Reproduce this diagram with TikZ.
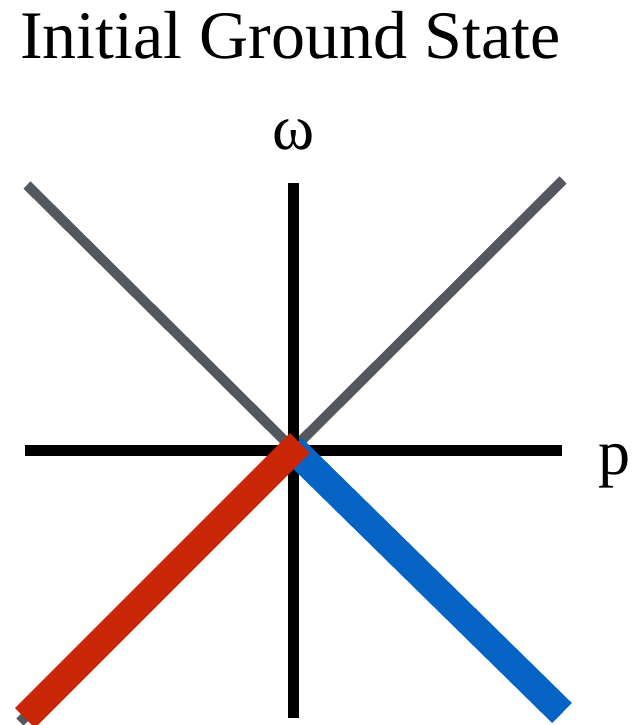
\documentclass[tikz,border=0pt]{standalone}
\usepackage{fontspec}
\setmainfont{Liberation Serif}
\definecolor{lgray}{RGB}{83,87,94}
\definecolor{lred}{RGB}{200,38,6}
\definecolor{lblue}{RGB}{5,100,195}
\tikzset{
  axisline/.style={draw=black,line width=11pt},
  grayline/.style={draw=lgray,line width=10pt},
  band/.style={line width=28pt},
  lbl/.style={inner sep=0pt,font=\fontsize{64}{70}\selectfont},
}
\begin{document}
\begin{tikzpicture}[x=1pt,y=-1pt]
\useasboundingbox (0,0) rectangle (635,725);
\node[lbl,anchor=base west,font=\fontsize{68}{74}\selectfont] (title) at (20,59) {Initial Ground State};
\coordinate (O) at (293,449);
\coordinate (gTL) at (27,185);
\coordinate (gTR) at (563,180);
\coordinate (gBL) at (20,722);
\coordinate (xL) at (25,450);
\coordinate (xR) at (562,450);
\coordinate (yT) at (293,183);
\coordinate (yB) at (293,718);
\coordinate (rS) at (300,443);
\coordinate (rE) at (25,718);
\coordinate (bS) at (292,448);
\coordinate (bE) at (562,713);
\draw[grayline] (gTL) -- (O) -- (gTR);
\draw[grayline] (O) -- (gBL);
\draw[axisline] (xL) -- (xR);
\draw[axisline] (yT) -- (yB);
\draw[band,draw=lblue] (bS) -- (bE);
\draw[band,draw=lred] (rS) -- (rE);
\node[lbl,anchor=base] (w) at (294,149) {ω};
\node[lbl,anchor=base west] (p) at (598,474) {p};
\end{tikzpicture}
\end{document}
